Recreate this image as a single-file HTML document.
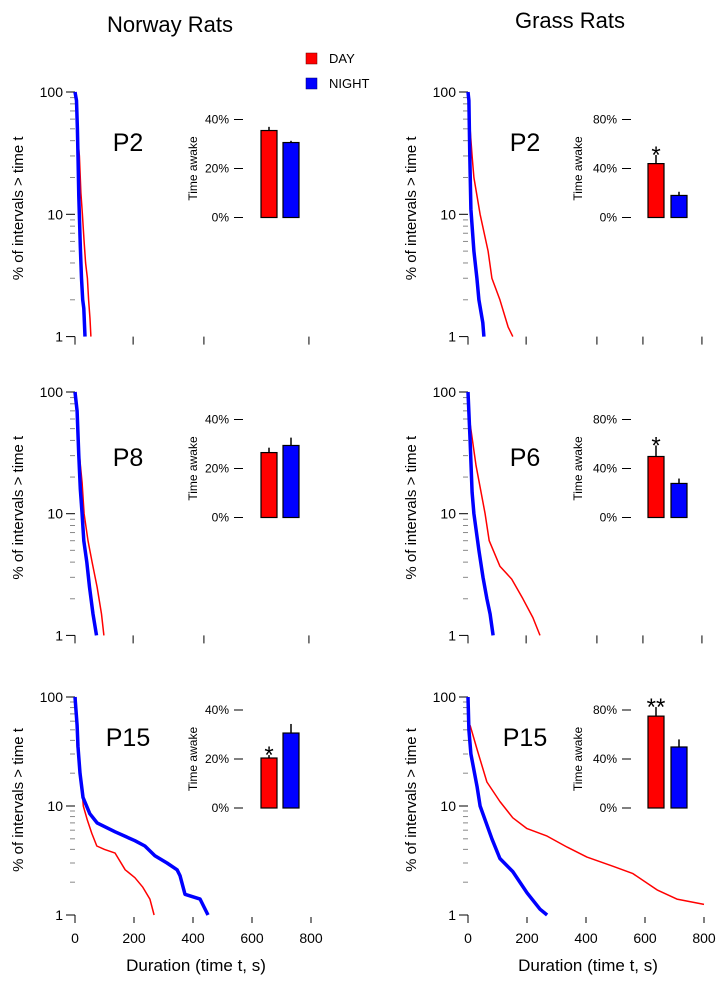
<!DOCTYPE html>
<html><head><meta charset="utf-8"><style>
html,body{margin:0;padding:0;background:#fff}
svg{display:block;font-family:"Liberation Sans",Arial,sans-serif}
</style></head><body>
<svg id="fig" width="727" height="987" viewBox="0 0 727 987" xmlns="http://www.w3.org/2000/svg">
<text x="170" y="32" font-size="22" text-anchor="middle">Norway Rats</text>
<text x="570" y="28" font-size="22" text-anchor="middle">Grass Rats</text>
<g>
<rect x="306" y="53" width="11" height="11" fill="#f00" stroke="#600" stroke-width="0.5"/>
<text x="329" y="63" font-size="13">DAY</text>
<rect x="306" y="78" width="11" height="11" fill="#00f" stroke="#006" stroke-width="0.5"/>
<text x="329" y="88" font-size="13">NIGHT</text>
</g>
</svg>
<script>
// ---- survival curve data: durations (s) and % of intervals > t ----
var nrP2DayT=[3,8,10,15,20,25,31,36,42,46,51,54];
var nrP2DayP=[100,55,40,30,15,10,6,4,3,2,1.4,1];
var nrP2NightT=[0,5,8,10,13,16,18,22,26,30,34];
var nrP2NightP=[100,85,50,30,14,8,5.5,3,2,1.7,1];
var nrP8DayT=[3,10,24,31,44,58,75,90,98];
var nrP8DayP=[100,40,18,10,6,4,2.5,1.5,1];
var nrP8NightT=[0,7,13,18,24,30,40,49,61,73];
var nrP8NightP=[100,70,30,16,10,6,4,2.5,1.5,1];
var nrP15DayT=[3,7,23,28,42,57,74,100,136,170,203,230,254,268];
var nrP15DayP=[100,35,15,10,7.4,5.6,4.3,4,3.7,2.6,2.2,1.8,1.4,1];
var nrP15NightT=[0,7,10,17,27,50,75,136,203,237,271,312,346,356,373,424,451];
var nrP15NightP=[100,55,35,20,12,8.5,7,5.8,4.8,4.3,3.5,3.0,2.6,2.3,1.55,1.4,1];
var grP2DayT=[7,14,20,41,68,81,108,136,152];
var grP2DayP=[50,30,20,10,5,3,2,1.2,1];
var grP2NightT=[0,3,6,10,20,30,37,50,54];
var grP2NightP=[100,85,30,11,5,3,2,1.3,1];
var grP6DayT=[7,27,58,72,108,148,186,220,244];
var grP6DayP=[55,25,10,6,3.7,2.9,2.0,1.4,1];
var grP6NightT=[0,7,14,20,37,51,64,75,85];
var grP6NightP=[100,40,15,10,5,3,2,1.5,1];
var grP15DayT=[7,31,64,108,152,200,268,336,403,492,559,641,708,800];
var grP15DayP=[55,33,16.6,11,7.8,6.2,5.3,4.2,3.4,2.8,2.4,1.7,1.4,1.25];
var grP15NightT=[0,3,10,31,41,81,108,152,200,244,268];
var grP15NightP=[100,50,30,15,10,5,3.3,2.5,1.6,1.13,1];
// ---- time awake bar data (%) ----
var nrDayAwake=[35.5,26.5,20.4];
var nrDayErr=[37,28.5,21.6];
var nrNightAwake=[30.6,29.4,30.6];
var nrNightErr=[31.3,32.6,34.3];
var grDayAwake=[44,49.8,75];
var grDayErr=[51,58.8,82.4];
var grNightAwake=[18,27.8,49.8];
var grNightErr=[21,31.8,56];
var nrStars=["","","*"];
var grStars=["*","*","**"];
var ageLabelsNR=["P2","P8","P15"];
var ageLabelsGR=["P2","P6","P15"];
var yTickLabels=["100","10","1"];
var xTickLabels=["0","200","400","600","800"];
var xTickValues=[0,200,400,600,800];
var upperTickValuesL=[197,437,793];
var upperTickValuesR=[197,437,593,793];
var nrBarTicks=[0,20,40];
var grBarTicks=[0,40,80];

var NS="http://www.w3.org/2000/svg";
var svg=document.getElementById('fig');
function mk(tag,attrs,parent){var e=document.createElementNS(NS,tag);for(var k in attrs)e.setAttribute(k,attrs[k]);(parent||svg).appendChild(e);return e;}

var rows=[{y100:92,dec:122.3,bar0:217.5,pY:142},{y100:392,dec:121.7,bar0:517.5,pY:457},{y100:697,dec:109,bar0:808,pY:737}];
var cols=[
 {x0:75,labelX:63,titleX:18,pX:128,barTickX:234,barTickLabelX:229,awakeX:193,redX:261,blueX:283,barW:16,upper:upperTickValuesL,ticks:nrBarTicks,
  day:[[nrP2DayT,nrP2DayP],[nrP8DayT,nrP8DayP],[nrP15DayT,nrP15DayP]],
  night:[[nrP2NightT,nrP2NightP],[nrP8NightT,nrP8NightP],[nrP15NightT,nrP15NightP]],
  dA:nrDayAwake,dE:nrDayErr,nA:nrNightAwake,nE:nrNightErr,stars:nrStars,ages:ageLabelsNR,key:'norway'},
 {x0:468,labelX:456,titleX:411,pX:525,barTickX:622,barTickLabelX:617,awakeX:578,redX:648,blueX:671,barW:16,upper:upperTickValuesR,ticks:grBarTicks,
  day:[[grP2DayT,grP2DayP],[grP6DayT,grP6DayP],[grP15DayT,grP15DayP]],
  night:[[grP2NightT,grP2NightP],[grP6NightT,grP6NightP],[grP15NightT,grP15NightP]],
  dA:grDayAwake,dE:grDayErr,nA:grNightAwake,nE:grNightErr,stars:grStars,ages:ageLabelsGR,key:'grass'}
];
var pxPerSec=0.295;

cols.forEach(function(c,ci){
 rows.forEach(function(r,ri){
  var g=mk('g',{});
  
  
  function xs(t){return c.x0+t*pxPerSec;}
  function ys(p){return r.y100+(2-Math.log10(p))*r.dec;}
  var yBottom=ys(1);
  // y ticks
  for(var d=0;d<2;d++){
   for(var m=2;m<=9;m++){
    var v=Math.pow(10,d)*m;var y=ys(v);
    var t=mk('line',{x1:c.x0-5,x2:c.x0,y1:y,y2:y,stroke:'#888','stroke-width':1},g);
    
    
   }
  }
  [100,10,1].forEach(function(v,i){
   var y=ys(v);
   var t=mk('line',{x1:c.x0-9,x2:c.x0,y1:y,y2:y,stroke:'#000','stroke-width':1},g);
   
   
   var l=mk('text',{x:c.labelX,y:y+5,'font-size':14,'text-anchor':'end'},g);
   l.textContent=yTickLabels[i];
   
   
  });
  var z=mk('line',{x1:c.x0,x2:c.x0,y1:yBottom,y2:yBottom+8,stroke:'#000','stroke-width':1},g);
  
  
  // x ticks
  if(ri<2){
   c.upper.forEach(function(v){
    var t=mk('line',{x1:xs(v),x2:xs(v),y1:yBottom,y2:yBottom+8,stroke:'#000','stroke-width':1},g);
    
    
   });
  } else {
   xTickValues.forEach(function(v,i){
    if(v>0){var t=mk('line',{x1:xs(v),x2:xs(v),y1:yBottom+2,y2:yBottom+8,stroke:'#000','stroke-width':1},g);
    
    }
    var l=mk('text',{x:xs(v),y:yBottom+28,'font-size':14,'text-anchor':'middle'},g);
    l.textContent=xTickLabels[i];
    
    
   });
   var xl=mk('text',{x:c.x0+(ci===0?121:120),y:yBottom+56,'font-size':17,'text-anchor':'middle'},g);
   xl.textContent='Duration (time t, s)';
   
   
  }
  // y title
  var yc=(r.y100+yBottom)/2-6;
  var yt=mk('text',{x:c.titleX,y:yc,'font-size':15,'text-anchor':'middle',transform:'rotate(-90 '+c.titleX+' '+yc+')',dy:5},g);
  yt.textContent='% of intervals > time t';
  
  
  // age label
  var pl=mk('text',{x:c.pX,y:r.pY+9,'font-size':25,'text-anchor':'middle'},g);
  pl.textContent=c.ages[ri];
  
  
  // curves
  function curve(arr,color,w,name){
   var pts=arr[0].map(function(t,i){return xs(t).toFixed(1)+','+ys(arr[1][i]).toFixed(1);}).join(' ');
   var pl2=mk('polyline',{points:pts,fill:'none',stroke:color,'stroke-width':w,'stroke-linejoin':'round'},g);
   
   
  }
  curve(c.day[ri],'#f00',1.5,'day-survival-curve');
  curve(c.night[ri],'#00f',3.5,'night-survival-curve');
  // bar inset
  var maxV=c.ticks[2];var hpx=98;
  function by(v){return r.bar0-v/maxV*hpx;}
  c.ticks.forEach(function(v){
   var y=by(v);
   var t=mk('line',{x1:c.barTickX,x2:c.barTickX+9,y1:y,y2:y,stroke:'#000','stroke-width':1},g);
   
   
   var l=mk('text',{x:c.barTickLabelX,y:y+4,'font-size':12,'text-anchor':'end'},g);
   l.textContent=v+'%';
   
   
  });
  var ay=by(maxV/2);
  var at=mk('text',{x:c.awakeX,y:ay,'font-size':12,'text-anchor':'middle',dy:4,transform:'rotate(-90 '+c.awakeX+' '+ay+')'},g);
  at.textContent='Time awake';
  
  
  function bar(x,val,err,color,name){
   var top=by(val);
   var e=mk('line',{x1:x+c.barW/2,x2:x+c.barW/2,y1:top,y2:by(err),stroke:'#000','stroke-width':1.5},g);
   
   
   var rct=mk('rect',{x:x,y:top,width:c.barW,height:r.bar0-top,fill:color,stroke:'#000','stroke-width':1.2},g);
   
   
  }
  bar(c.redX,c.dA[ri],c.dE[ri],'#f00','day-bar');
  bar(c.blueX,c.nA[ri],c.nE[ri],'#00f','night-bar');
  if(c.stars[ri]){
   var s=mk('text',{x:c.redX+c.barW/2,y:by(c.dE[ri])+8,'font-size':24,'text-anchor':'middle'},g);
   s.textContent=c.stars[ri];
   
   
  }
 });
});
</script>
</body></html>
